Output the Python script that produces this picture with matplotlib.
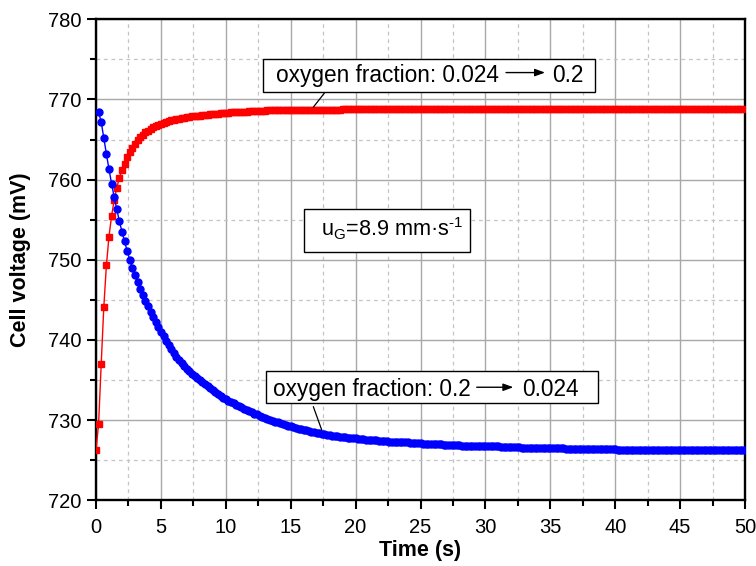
import numpy as np
import matplotlib.pyplot as plt
from matplotlib.patches import Rectangle

plt.rcParams['font.family'] = ['Liberation Sans', 'DejaVu Sans']
plt.rcParams['mathtext.fontset'] = 'custom'
plt.rcParams['mathtext.rm'] = 'Liberation Sans'

sample_step = 0.2  # s, one marker every 0.2 s

# oxygen fraction 0.024 -> 0.2 (red squares), t = 0.0 ... 49.8 s
v_rise = [
    726.3, 729.5, 737.0, 744.1, 749.3, 752.9, 755.5, 757.4, 759.0, 760.2,
    761.2, 762.0, 762.8, 763.5, 764.0, 764.5, 764.9, 765.3, 765.6, 765.9,
    766.1, 766.35, 766.55, 766.7, 766.85, 767.0, 767.1, 767.2, 767.3, 767.4,
    767.5, 767.55, 767.6, 767.65, 767.7, 767.8, 767.85, 767.9, 767.95, 768.0,
    768.0, 768.05, 768.1, 768.1, 768.15, 768.2, 768.2, 768.25, 768.3, 768.3,
    768.35, 768.35, 768.4, 768.4, 768.45, 768.45, 768.5, 768.5, 768.5, 768.55,
    768.55, 768.55, 768.6, 768.6, 768.6, 768.6, 768.65, 768.65, 768.65, 768.65,
    768.7, 768.7, 768.7, 768.7, 768.7, 768.7, 768.7, 768.7, 768.7, 768.7,
    768.7, 768.7, 768.7, 768.7, 768.75, 768.75, 768.75, 768.75, 768.75, 768.75,
    768.75, 768.75, 768.75, 768.75, 768.75, 768.8, 768.8, 768.8, 768.8, 768.8,
    768.8, 768.8, 768.8, 768.8, 768.8, 768.8, 768.8, 768.8, 768.8, 768.8,
    768.8, 768.8, 768.8, 768.8, 768.8, 768.8, 768.8, 768.8, 768.8, 768.8,
    768.8, 768.8, 768.8, 768.8, 768.8, 768.8, 768.85, 768.85, 768.85, 768.85,
    768.85, 768.85, 768.85, 768.85, 768.85, 768.85, 768.85, 768.85, 768.85, 768.85,
    768.85, 768.85, 768.85, 768.85, 768.85, 768.85, 768.85, 768.85, 768.85, 768.85,
    768.85, 768.85, 768.85, 768.85, 768.85, 768.85, 768.85, 768.85, 768.85, 768.85,
    768.85, 768.85, 768.85, 768.85, 768.85, 768.85, 768.85, 768.85, 768.85, 768.85,
    768.85, 768.85, 768.85, 768.85, 768.85, 768.85, 768.85, 768.85, 768.85, 768.85,
    768.85, 768.85, 768.85, 768.85, 768.85, 768.85, 768.85, 768.85, 768.85, 768.85,
    768.85, 768.85, 768.85, 768.85, 768.85, 768.85, 768.85, 768.85, 768.85, 768.85,
    768.85, 768.85, 768.85, 768.85, 768.85, 768.85, 768.85, 768.85, 768.85, 768.85,
    768.85, 768.85, 768.85, 768.85, 768.85, 768.85, 768.85, 768.85, 768.85, 768.85,
    768.85, 768.85, 768.85, 768.85, 768.85, 768.85, 768.85, 768.85, 768.85, 768.85,
    768.85, 768.85, 768.85, 768.85, 768.85, 768.85, 768.85, 768.85, 768.85, 768.85,
    768.85, 768.85, 768.85, 768.85, 768.85, 768.85, 768.85, 768.85, 768.85, 768.85,
]

# oxygen fraction 0.2 -> 0.024 (blue circles), t = 0.2 ... 50.0 s
v_fall = [
    768.4, 767.2, 765.2, 763.2, 761.3, 759.5, 757.8, 756.3, 754.8, 753.5,
    752.3, 751.1, 750.0, 749.0, 748.1, 747.2, 746.4, 745.6, 744.9, 744.2,
    743.5, 742.9, 742.2, 741.6, 741.0, 740.5, 739.9, 739.4, 738.9, 738.4,
    737.9, 737.5, 737.1, 736.7, 736.4, 736.1, 735.8, 735.5, 735.2, 735.0,
    734.7, 734.5, 734.2, 734.0, 733.7, 733.5, 733.3, 733.0, 732.8, 732.6,
    732.4, 732.3, 732.1, 731.9, 731.75, 731.6, 731.4, 731.3, 731.1, 731.0,
    730.8, 730.7, 730.55, 730.4, 730.3, 730.15, 730.0, 729.9, 729.8, 729.7,
    729.6, 729.5, 729.4, 729.3, 729.2, 729.1, 729.0, 728.9, 728.85, 728.75,
    728.7, 728.6, 728.55, 728.5, 728.4, 728.35, 728.3, 728.2, 728.15, 728.1,
    728.05, 728.0, 727.95, 727.9, 727.9, 727.85, 727.8, 727.75, 727.7, 727.7,
    727.65, 727.6, 727.6, 727.55, 727.5, 727.5, 727.45, 727.45, 727.4, 727.4,
    727.35, 727.35, 727.3, 727.3, 727.3, 727.25, 727.25, 727.2, 727.2, 727.2,
    727.15, 727.15, 727.1, 727.1, 727.1, 727.05, 727.05, 727.0, 727.0, 727.0,
    727.0, 726.95, 726.95, 726.9, 726.9, 726.9, 726.9, 726.85, 726.85, 726.85,
    726.8, 726.8, 726.8, 726.8, 726.8, 726.75, 726.75, 726.75, 726.7, 726.7,
    726.7, 726.7, 726.7, 726.7, 726.7, 726.65, 726.65, 726.6, 726.6, 726.6,
    726.6, 726.6, 726.6, 726.55, 726.55, 726.55, 726.5, 726.5, 726.5, 726.5,
    726.5, 726.5, 726.5, 726.5, 726.45, 726.45, 726.45, 726.45, 726.45, 726.45,
    726.4, 726.4, 726.4, 726.4, 726.4, 726.4, 726.4, 726.4, 726.4, 726.4,
    726.35, 726.35, 726.35, 726.35, 726.35, 726.35, 726.35, 726.35, 726.35, 726.35,
    726.3, 726.3, 726.3, 726.3, 726.3, 726.3, 726.3, 726.3, 726.3, 726.3,
    726.3, 726.3, 726.3, 726.3, 726.3, 726.25, 726.25, 726.25, 726.25, 726.25,
    726.25, 726.25, 726.25, 726.25, 726.25, 726.25, 726.25, 726.25, 726.25, 726.25,
    726.2, 726.2, 726.2, 726.2, 726.2, 726.2, 726.2, 726.2, 726.2, 726.2,
    726.2, 726.2, 726.2, 726.2, 726.2, 726.2, 726.2, 726.2, 726.2, 726.2,
]

t_rise = np.arange(len(v_rise)) * sample_step
t_fall = (np.arange(len(v_fall)) + 1) * sample_step

fig = plt.figure(figsize=(7.56, 5.66), dpi=100)
ax = fig.add_axes([0.127, 0.1163, 0.8585, 0.8495])

ax.plot(t_rise, v_rise, color='#ff0000', lw=1, marker='s', ms=4.6,
        mec='#ff0000', mfc='#ff0000', zorder=3)
ax.plot(t_fall, v_fall, color='#0000ff', lw=1, marker='o', ms=5.0,
        mec='#0000ff', mfc='#0000ff', zorder=3)

ax.set_xlim(0, 50)
ax.set_ylim(720, 780)
ax.set_xticks(np.arange(0, 51, 5))
ax.set_xticks(np.arange(2.5, 50, 5), minor=True)
ax.set_yticks(np.arange(720, 781, 10))
ax.set_yticks(np.arange(725, 780, 10), minor=True)

ax.grid(True, which='major', color='#a8a8a8', lw=1.0, ls='-', zorder=0)
ax.grid(True, which='minor', color='#c4c4c4', lw=0.9, ls=(0, (3, 3)), zorder=0)
ax.set_axisbelow(True)

for s in ax.spines.values():
    s.set_linewidth(1.7)
    s.set_color('black')

ax.tick_params(which='major', direction='out', length=6.5, width=1.5,
               labelsize=14.5, colors='black')
ax.tick_params(which='minor', direction='out', length=4, width=1.5)
ax.tick_params(axis='x', pad=6)
ax.tick_params(axis='y', pad=4)

ax.set_xlabel('Time (s)', fontsize=15.5, fontweight='bold')
ax.set_ylabel('Cell voltage (mV)', fontsize=15.5, fontweight='bold')
ax.xaxis.set_label_coords(0.5, -0.083)
ax.yaxis.set_label_coords(-0.100, 0.5)

def px(x, y):
    # image pixel -> axes fraction
    return (x - 96) / 649, (500.2 - y) / 480.7

def box(x0, y0, x1, y1):
    a0 = px(x0, y1)
    a1 = px(x1, y0)
    ax.add_patch(Rectangle(a0, a1[0] - a0[0], a1[1] - a0[1], transform=ax.transAxes,
                           facecolor='white', edgecolor='black', lw=1.0, zorder=5))

def arrow(x0, x1, y):
    ax.annotate('', xy=px(x1, y), xytext=px(x0, y), xycoords='axes fraction',
                textcoords='axes fraction',
                arrowprops=dict(arrowstyle='-|>,head_length=0.6,head_width=0.22',
                                color='black', lw=1.0, shrinkA=0, shrinkB=0),
                zorder=6)

def leader(x0, y0, x1, y1):
    ax.annotate('', xy=px(x1, y1), xytext=px(x0, y0), xycoords='axes fraction',
                textcoords='axes fraction',
                arrowprops=dict(arrowstyle='-', color='black', lw=0.9,
                                shrinkA=0, shrinkB=0), zorder=6)

fs = 16.3
# upper annotation
box(263.3, 59.3, 595, 91.7)
ax.text(*px(276, 81.7), 'oxygen fraction: 0.024', transform=ax.transAxes,
        fontsize=fs, va='baseline', ha='left', zorder=6)
arrow(506, 545, 72.7)
ax.text(*px(551.7, 81.7), '0.2', transform=ax.transAxes,
        fontsize=fs, va='baseline', ha='left', zorder=6)
leader(324.3, 93.3, 313.3, 107.3)

# gas velocity
box(304.3, 209.3, 470, 252.3)
ax.text(*px(320.7, 236.7), r'u$_\mathregular{G}$=8.9 mm·s$^\text{-1}$',
        transform=ax.transAxes, fontsize=15.6, va='baseline', ha='left', zorder=6)

# lower annotation
box(265.7, 371, 598.3, 403.3)
ax.text(*px(272.7, 395.7), 'oxygen fraction: 0.2', transform=ax.transAxes,
        fontsize=fs, va='baseline', ha='left', zorder=6)
arrow(476.7, 513.3, 387.3)
ax.text(*px(521.7, 395.7), '0.024', transform=ax.transAxes,
        fontsize=fs, va='baseline', ha='left', zorder=6)
leader(313.3, 406.7, 321.7, 430)

fig.savefig('out.png', dpi=100)
